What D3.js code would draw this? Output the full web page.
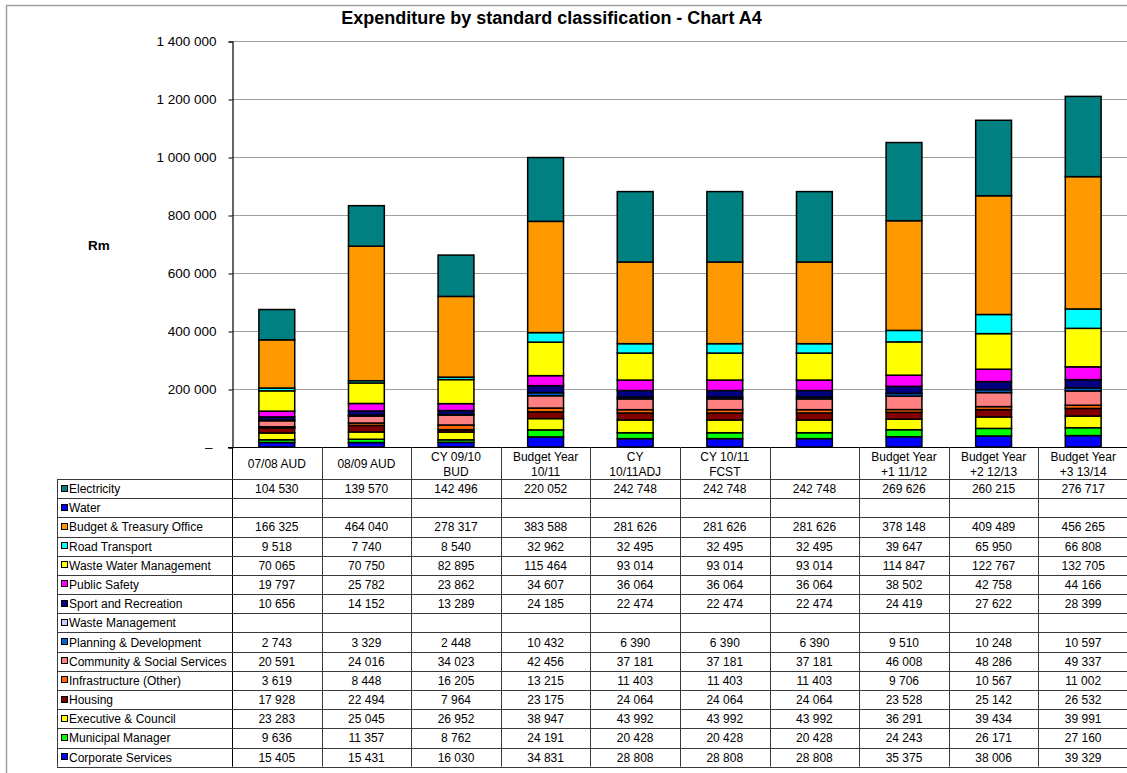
<!DOCTYPE html>
<html>
<head>
<meta charset="utf-8">
<script src="https://cdn.jsdelivr.net/npm/d3@7"></script>
<style>
  html, body { margin: 0; padding: 0; background: #fff; }
  svg { display: block; font-family: "Liberation Sans", Arial, sans-serif; }
</style>
</head>
<body>
<svg id="chart" width="1127" height="773"></svg>
<script>
// Column headings (multi-line labels split on "\n")
const categories = [
  "07/08 AUD", "08/09 AUD", "CY 09/10\nBUD", "Budget Year\n10/11", "CY\n10/11ADJ",
  "CY 10/11\nFCST", "", "Budget Year\n+1 11/12", "Budget Year\n+2 12/13", "Budget Year\n+3 13/14"
];

// Expenditure per vote (R thousand); null = no value
const electricity       = [104530, 139570, 142496, 220052, 242748, 242748, 242748, 269626, 260215, 276717];
const water             = [null, null, null, null, null, null, null, null, null, null];
const budgetTreasury    = [166325, 464040, 278317, 383588, 281626, 281626, 281626, 378148, 409489, 456265];
const roadTransport     = [9518, 7740, 8540, 32962, 32495, 32495, 32495, 39647, 65950, 66808];
const wasteWater        = [70065, 70750, 82895, 115464, 93014, 93014, 93014, 114847, 122767, 132705];
const publicSafety      = [19797, 25782, 23862, 34607, 36064, 36064, 36064, 38502, 42758, 44166];
const sportRecreation   = [10656, 14152, 13289, 24185, 22474, 22474, 22474, 24419, 27622, 28399];
const wasteManagement   = [null, null, null, null, null, null, null, null, null, null];
const planningDev       = [2743, 3329, 2448, 10432, 6390, 6390, 6390, 9510, 10248, 10597];
const communitySocial   = [20591, 24016, 34023, 42456, 37181, 37181, 37181, 46008, 48286, 49337];
const infrastructure    = [3619, 8448, 16205, 13215, 11403, 11403, 11403, 9706, 10567, 11002];
const housing           = [17928, 22494, 7964, 23175, 24064, 24064, 24064, 23528, 25142, 26532];
const executiveCouncil  = [23283, 25045, 26952, 38947, 43992, 43992, 43992, 36291, 39434, 39991];
const municipalManager  = [9636, 11357, 8762, 24191, 20428, 20428, 20428, 24243, 26171, 27160];
const corporateServices = [15405, 15431, 16030, 34831, 28808, 28808, 28808, 35375, 38006, 39329];

// Y axis ticks
const yTicks = [0, 200000, 400000, 600000, 800000, 1000000, 1200000, 1400000];

// Series in table order (top of table = top of stack)
const series = [
  { name: "Electricity",                 values: electricity,       color: "#008080" },
  { name: "Water",                       values: water,             color: "#0000FF" },
  { name: "Budget & Treasury Office",    values: budgetTreasury,    color: "#FF9900" },
  { name: "Road Transport",              values: roadTransport,     color: "#00FFFF" },
  { name: "Waste Water Management",      values: wasteWater,        color: "#FFFF00" },
  { name: "Public Safety",               values: publicSafety,      color: "#FF00FF" },
  { name: "Sport and Recreation",        values: sportRecreation,   color: "#000080" },
  { name: "Waste Management",            values: wasteManagement,   color: "#CCCCFF" },
  { name: "Planning & Development",      values: planningDev,       color: "#0066CC" },
  { name: "Community & Social Services", values: communitySocial,   color: "#FF8080" },
  { name: "Infrastructure (Other)",      values: infrastructure,    color: "#FF6600" },
  { name: "Housing",                     values: housing,           color: "#800000" },
  { name: "Executive & Council",         values: executiveCouncil,  color: "#FFFF00" },
  { name: "Municipal Manager",           values: municipalManager,  color: "#00FF00" },
  { name: "Corporate Services",          values: corporateServices, color: "#0000FF" }
];

const svg = d3.select("#chart");

const plotLeft = 232, plotRight = 1128, plotTop = 41, plotBottom = 447;
const headerBottom = 479, rowH = 19.18, tableLeft = 57;

const x = d3.scaleBand()
  .domain(d3.range(categories.length))
  .range([plotLeft, plotRight])
  .paddingInner(0.6)
  .paddingOuter(0.3);

const y = d3.scaleLinear().domain([0, 1400000]).range([plotBottom, plotTop]);

const spaceFmt = d3.formatLocale({ decimal: ".", thousands: " ", grouping: [3], currency: ["", ""] }).format(",");

// Outer frame
svg.append("rect")
  .attr("x", 6.5).attr("y", 5.5)
  .attr("width", 1140).attr("height", 800)
  .attr("fill", "none").attr("stroke", "#a0a0a0").attr("stroke-width", 1.5);

// Title
svg.append("text")
  .attr("x", 551.5).attr("y", 24)
  .attr("text-anchor", "middle")
  .attr("font-size", 18).attr("font-weight", "bold")
  .text("Expenditure by standard classification - Chart A4");

// Y axis title
svg.append("text")
  .attr("x", 99).attr("y", 250)
  .attr("text-anchor", "middle")
  .attr("font-size", 13.5).attr("font-weight", "bold")
  .text("Rm");

// Gridlines
svg.append("g")
  .selectAll("line")
  .data(yTicks.filter(d => d > 0))
  .join("line")
  .attr("x1", plotLeft).attr("x2", plotRight)
  .attr("y1", d => Math.round(y(d)) + 0.5).attr("y2", d => Math.round(y(d)) + 0.5)
  .attr("stroke", "#a0a0a0").attr("stroke-width", 1);

// Y axis
const yAxis = d3.axisLeft(y)
  .tickValues(yTicks)
  .tickSize(4)
  .tickPadding(12)
  .tickFormat(d => d === 0 ? "\u2013" : spaceFmt(d));

const yG = svg.append("g")
  .attr("transform", `translate(${plotLeft + 0.5},0.5)`)
  .call(yAxis);
yG.select(".domain").attr("stroke", "#000").attr("stroke-width", 1.2);
yG.selectAll(".tick line").attr("stroke", "#000");
yG.selectAll(".tick text")
  .attr("font-size", 13.5)
  .attr("font-family", "Liberation Sans, Arial, sans-serif")
  .attr("fill", "#000")
  .attr("dx", d => d === 0 ? -4 : 0);

// Stacked bars: bottom of the stack is the last table row
const stackOrder = series.slice().reverse();
const barsG = svg.append("g");
categories.forEach((cat, i) => {
  let cum = 0;
  stackOrder.forEach(s => {
    const v = s.values[i];
    if (v == null || v === 0) return;
    const y0 = y(cum), y1 = y(cum + v);
    cum += v;
    barsG.append("rect")
      .attr("x", x(i))
      .attr("y", y1)
      .attr("width", x.bandwidth())
      .attr("height", y0 - y1)
      .attr("fill", s.color)
      .attr("stroke", "#000")
      .attr("stroke-width", 1.5);
  });
});

// X axis baseline
svg.append("line")
  .attr("x1", plotLeft - 4).attr("x2", plotRight)
  .attr("y1", plotBottom + 0.5).attr("y2", plotBottom + 0.5)
  .attr("stroke", "#000").attr("stroke-width", 1.2);

// Data table
const tableG = svg.append("g").attr("font-size", 12).attr("fill", "#000");
const tableBottom = headerBottom + rowH * series.length;
const lineColor = "#3a3a3a";

// Column separators (header + body)
d3.range(categories.length).forEach(i => {
  const xl = Math.round(x(i) - x.step() * x.paddingInner() / 2) + 0.5;
  tableG.append("line")
    .attr("x1", xl).attr("x2", xl)
    .attr("y1", plotBottom).attr("y2", tableBottom)
    .attr("stroke", i === 0 ? "#000" : lineColor).attr("stroke-width", 1);
});
// Left edge of legend column
tableG.append("line")
  .attr("x1", tableLeft + 0.5).attr("x2", tableLeft + 0.5)
  .attr("y1", headerBottom).attr("y2", tableBottom)
  .attr("stroke", lineColor);
// Row separators
d3.range(series.length + 1).forEach(r => {
  const yy = Math.round(headerBottom + r * rowH) + 0.5;
  tableG.append("line")
    .attr("x1", tableLeft).attr("x2", plotRight)
    .attr("y1", yy).attr("y2", yy)
    .attr("stroke", lineColor).attr("stroke-width", 1);
});

// Header labels
categories.forEach((cat, i) => {
  const lines = cat ? cat.split("\n") : [];
  const cx = x(i) + x.bandwidth() / 2;
  const cy = (plotBottom + headerBottom) / 2 + 1;
  lines.forEach((ln, k) => {
    tableG.append("text")
      .attr("x", cx)
      .attr("y", cy + (k - (lines.length - 1) / 2) * 15 + 4)
      .attr("text-anchor", "middle")
      .text(ln);
  });
});

// Legend cells and values
series.forEach((s, r) => {
  const cy = headerBottom + r * rowH + rowH / 2;
  tableG.append("rect")
    .attr("x", 61.5).attr("y", Math.round(cy - 4) + 0.5)
    .attr("width", 6).attr("height", 6)
    .attr("fill", s.color).attr("stroke", "#000").attr("stroke-width", 1);
  tableG.append("text")
    .attr("x", 69).attr("y", cy + 4.5)
    .text(s.name);
  s.values.forEach((v, i) => {
    if (v == null) return;
    tableG.append("text")
      .attr("x", x(i) + x.bandwidth() / 2)
      .attr("y", cy + 4.5)
      .attr("text-anchor", "middle")
      .text(spaceFmt(v));
  });
});
</script>
</body>
</html>
